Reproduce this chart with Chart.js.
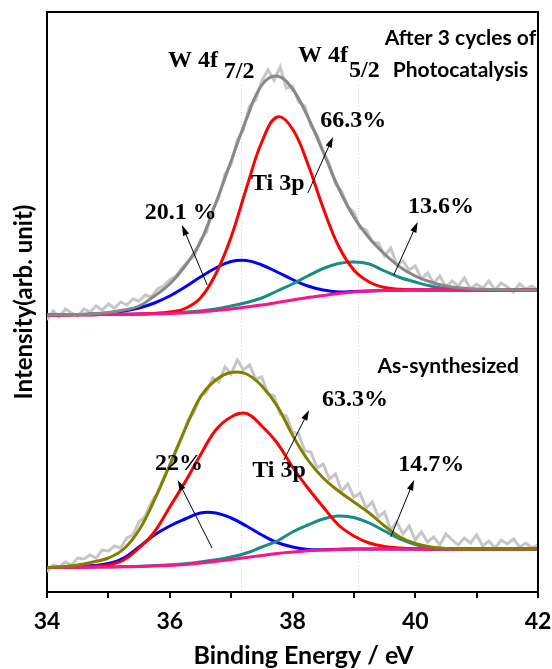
<!DOCTYPE html>
<html>
<head>
<meta charset="utf-8">
<script src="https://cdn.jsdelivr.net/npm/chart.js@4.4.1/dist/chart.umd.min.js"></script>
<style>
    html, body { margin: 0; padding: 0; background: #fff; }
</style>
</head>
<body>
<canvas id="xps-chart" width="552" height="669"></canvas>
<script>
// binding energy grid of the fitted curves (eV)
const energy = [34, 34.25, 34.5, 34.75, 35, 35.25, 35.5, 35.75, 36, 36.25, 36.5, 36.75, 37, 37.25, 37.5, 37.75,
    38, 38.25, 38.5, 38.75, 39, 39.25, 39.5, 39.75, 40, 40.25, 40.5, 40.75, 41, 41.25, 41.5, 41.75, 42];

// after 3 cycles of photocatalysis (upper spectrum, offset)
const top_envelope = [277, 277.3, 277.6, 278.3, 279.5, 282, 286, 296, 308, 326, 350, 389, 431, 473, 507, 516,
    503, 475, 440, 404, 375, 354, 338, 325, 316, 310, 306, 304, 303, 302.5, 302.3, 302, 302];
const top_ti3p = [277, 277.1, 277.2, 277.3, 277.5, 277.7, 278, 278.5, 280, 283.5, 294, 318, 355, 404, 450, 475,
    463, 428, 384, 346, 322, 310, 304.5, 302.8, 302.2, 302, 302, 302, 302, 302, 302, 302, 302];
const top_w72 = [277, 277.2, 277.5, 278, 279, 281, 284, 289, 296, 305, 315, 324, 330.5, 331.5, 327, 320,
    312.5, 306, 302, 300, 300.5, 301, 301.5, 301.8, 302, 302, 302, 302, 302, 302, 302, 302, 302];
const top_w52 = [277, 277.1, 277.2, 277.3, 277.5, 277.7, 278, 278.5, 279, 280, 281, 283, 286, 289.5, 294, 301,
    308, 316, 323.5, 328.5, 330, 328, 321, 314.5, 310, 306, 303.5, 302.5, 302, 302, 302, 302, 302];
const top_background = [277, 277.1, 277.2, 277.3, 277.5, 277.7, 278, 278.2, 278.5, 279.2, 280, 281.5, 283, 285, 287, 289.5,
    292, 294.5, 296.5, 298.5, 300, 301, 301.5, 301.8, 302, 302, 302, 302, 302, 302, 302, 302, 302];

// as-synthesized (lower spectrum)
const bot_envelope = [24.5, 25.2, 27, 30, 34, 43, 62, 92, 127, 163, 195, 212, 219.5, 218, 206, 186,
    157, 132, 114, 101, 90, 79, 66, 55, 48.5, 45, 43.5, 43.1, 43, 43, 43, 43, 43];
const bot_ti3p = [24.5, 24.6, 25, 25.8, 27, 32, 44, 60, 85, 110, 137, 162, 175, 178.5, 166, 149,
    125, 104, 85, 67, 56, 49, 45.5, 44, 43.2, 43, 43, 43, 43, 43, 43, 43, 43];
const bot_w72 = [24.5, 24.8, 25.5, 26.5, 28.5, 34, 45, 57, 66, 73, 79, 79, 74, 66, 57, 49.5,
    45, 42.5, 42.2, 42.7, 43, 43, 43, 43, 43, 43, 43, 43, 43, 43, 43, 43, 43];
const bot_w52 = [24.5, 24.6, 24.7, 24.9, 25.1, 25.4, 25.8, 26.4, 27.2, 28.3, 30, 32.2, 35, 39, 45, 51,
    60, 67, 73, 76, 74.5, 69, 61, 53, 47.5, 44.5, 43.5, 43, 43, 43, 43, 43, 43];
const bot_background = [24.5, 24.6, 24.7, 24.8, 25, 25.2, 25.5, 26, 26.5, 27.5, 29, 30.7, 32.5, 34.5, 36.5, 38.5,
    40, 41.3, 42, 42.6, 43, 43, 43, 43, 43, 43, 43, 43, 43, 43, 43, 43, 43];

// measured spectra
const raw_energy = [34.0, 34.1, 34.2, 34.3, 34.4, 34.5, 34.6, 34.7, 34.8, 34.9, 35.0, 35.1, 35.2, 35.3, 35.4, 35.5,
    35.6, 35.7, 35.8, 35.9, 36.0, 36.1, 36.2, 36.3, 36.4, 36.5, 36.6, 36.7, 36.8, 36.9, 37.0, 37.1, 37.2, 37.3,
    37.4, 37.5, 37.6, 37.7, 37.8, 37.9, 38.0, 38.1, 38.2, 38.3, 38.4, 38.5, 38.6, 38.7, 38.8, 38.9, 39.0, 39.1,
    39.2, 39.3, 39.4, 39.5, 39.6, 39.7, 39.8, 39.9, 40.0, 40.1, 40.2, 40.3, 40.4, 40.5, 40.6, 40.7, 40.8, 40.9,
    41.0, 41.1, 41.2, 41.3, 41.4, 41.5, 41.6, 41.7, 41.8, 41.9, 42.0];
const raw_top = [272, 281, 275, 283, 279, 276, 283, 280, 286, 282, 288, 284, 290, 287, 293, 291,
    297, 295, 303, 306, 312, 316, 324, 331, 336, 352, 360, 383, 394, 418, 428, 452, 462, 486,
    492, 511, 522, 512, 525, 504, 506, 490, 486, 466, 457, 441, 428, 408, 401, 385, 380, 364,
    362, 350, 349, 336, 344, 327, 331, 322, 326, 313, 319, 309, 316, 305, 311, 306, 314, 303,
    308, 304, 311, 302, 309, 305, 300, 308, 303, 306, 302];
const raw_bot = [20, 27, 25, 30, 27, 34, 33, 37, 34, 42, 41, 46, 44, 54, 57, 70,
    76, 90, 99, 114, 126, 140, 154, 172, 180, 196, 200, 214, 210, 225, 218, 232, 222, 227,
    213, 215, 198, 196, 178, 176, 160, 158, 141, 140, 124, 128, 113, 118, 101, 108, 95, 99,
    84, 90, 75, 80, 62, 70, 58, 66, 52, 60, 50, 55, 47, 58, 52, 47, 54, 49,
    57, 46, 51, 44, 52, 48, 53, 45, 49, 44, 47];

// labels, placed in data units (eV, intensity)
const labels_serif = [
    { text: "W 4f", x: 35.97, y: 531, align: "left" },
    { text: "7/2", x: 36.88, y: 520, align: "left" },
    { text: "W 4f", x: 38.09, y: 536, align: "left" },
    { text: "5/2", x: 38.92, y: 521, align: "left" },
    { text: "66.3%", x: 38.99, y: 471, align: "center" },
    { text: "Ti 3p", x: 37.76, y: 408, align: "center" },
    { text: "20.1 %", x: 36.18, y: 379, align: "center" },
    { text: "13.6%", x: 40.42, y: 385, align: "center" },
    { text: "63.3%", x: 39.02, y: 192, align: "center" },
    { text: "Ti 3p", x: 37.78, y: 121, align: "center" },
    { text: "22%", x: 36.15, y: 128, align: "center" },
    { text: "14.7%", x: 40.26, y: 127, align: "center" }
];
const labels_sans = [
    { text: "After 3 cycles of", x: 41.97, y: 554, align: "right" },
    { text: "Photocatalysis", x: 41.84, y: 522, align: "right" },
    { text: "As-synthesized", x: 41.69, y: 226, align: "right" }
];
const arrows = [
    { from: [36.61, 307], to: [36.20, 367] },
    { from: [38.25, 399], to: [38.66, 455] },
    { from: [39.65, 317], to: [40.04, 370] },
    { from: [36.69, 44], to: [36.13, 112] },
    { from: [37.86, 132], to: [38.27, 182] },
    { from: [39.60, 55], to: [39.98, 112] }
];
const guide_lines = [37.16, 39.07];
const x_title = { text: "Binding Energy / eV", x: 38.18 };

function points(xs, ys) {
    return xs.map((x, i) => ({ x: x, y: ys[i] }));
}

function fit_line(ys, color) {
    return {
        data: points(energy, ys),
        borderColor: color,
        borderWidth: 3,
        pointRadius: 0,
        tension: 0.4,
        fill: false
    };
}

function raw_line(ys) {
    return {
        data: points(raw_energy, ys),
        borderColor: "#c6c6c6",
        borderWidth: 3,
        pointRadius: 0,
        tension: 0,
        fill: false
    };
}

const decorations = {
    id: "decorations",
    beforeDatasetsDraw(chart) {
        const { ctx, scales: { x, y } } = chart;
        ctx.save();
        ctx.strokeStyle = "#d4d4d4";
        ctx.lineWidth = 1;
        ctx.setLineDash([1, 2]);
        guide_lines.forEach(e => {
            const px = Math.round(x.getPixelForValue(e)) + 0.5;
            ctx.beginPath();
            ctx.moveTo(px, y.getPixelForValue(507));
            ctx.lineTo(px, y.bottom);
            ctx.stroke();
        });
        ctx.restore();
    },
    afterDatasetsDraw(chart) {
        const { ctx, chartArea, scales: { x, y } } = chart;
        ctx.save();

        ctx.strokeStyle = "#000";
        ctx.lineWidth = 2;
        ctx.beginPath();
        ctx.moveTo(chartArea.left, chartArea.top);
        ctx.lineTo(chartArea.right, chartArea.top);
        ctx.lineTo(chartArea.right, chartArea.bottom);
        ctx.stroke();

        ctx.fillStyle = "#000";
        ctx.textBaseline = "middle";
        ctx.font = "bold 24px 'Liberation Serif'";
        labels_serif.forEach(l => {
            ctx.textAlign = l.align;
            ctx.fillText(l.text, x.getPixelForValue(l.x), y.getPixelForValue(l.y));
        });
        ctx.font = "bold 21px Lato";
        labels_sans.forEach(l => {
            ctx.textAlign = l.align;
            ctx.fillText(l.text, x.getPixelForValue(l.x), y.getPixelForValue(l.y));
        });

        ctx.font = "bold 25px Lato";
        ctx.textAlign = "center";
        ctx.fillText(x_title.text, x.getPixelForValue(x_title.x), 656);

        ctx.lineWidth = 1;
        arrows.forEach(a => {
            const x0 = x.getPixelForValue(a.from[0]);
            const y0 = y.getPixelForValue(a.from[1]);
            const x1 = x.getPixelForValue(a.to[0]);
            const y1 = y.getPixelForValue(a.to[1]);
            const ang = Math.atan2(y1 - y0, x1 - x0);
            const len = 11;
            ctx.beginPath();
            ctx.moveTo(x0, y0);
            ctx.lineTo(x1 - Math.cos(ang) * len * 0.8, y1 - Math.sin(ang) * len * 0.8);
            ctx.stroke();
            ctx.beginPath();
            ctx.moveTo(x1, y1);
            ctx.lineTo(x1 - len * Math.cos(ang - 0.3), y1 - len * Math.sin(ang - 0.3));
            ctx.lineTo(x1 - len * Math.cos(ang + 0.3), y1 - len * Math.sin(ang + 0.3));
            ctx.closePath();
            ctx.fill();
        });
        ctx.restore();
    }
};

const ctx = document.getElementById("xps-chart");

new Chart(ctx, {
    type: "line",
    data: {
        datasets: [
            fit_line(top_envelope, "#888888"),
            fit_line(bot_envelope, "#808000"),
            fit_line(top_background, "#ff1488"),
            fit_line(bot_background, "#ff1488"),
            fit_line(top_ti3p, "#ff0000"),
            fit_line(bot_ti3p, "#ff0000"),
            fit_line(top_w52, "#178c88"),
            fit_line(bot_w52, "#178c88"),
            fit_line(top_w72, "#0000ff"),
            fit_line(bot_w72, "#0000ff"),
            raw_line(raw_top),
            raw_line(raw_bot)
        ]
    },
    options: {
        responsive: false,
        devicePixelRatio: 1,
        animation: false,
        layout: {
            padding: { top: 12, right: 14, left: 0, bottom: 0 }
        },
        plugins: {
            legend: { display: false },
            tooltip: { enabled: false }
        },
        scales: {
            x: {
                type: "linear",
                min: 34,
                max: 42,
                afterFit: scale => {
                    scale.height = 77;
                    scale.paddingLeft = 0;
                    scale.paddingRight = 0;
                },
                ticks: {
                    stepSize: 1,
                    color: "#000",
                    padding: 10,
                    maxRotation: 0,
                    font: { family: "Lato", size: 23, weight: "bold" },
                    callback: value => (value % 2 === 0 ? value : "")
                },
                grid: {
                    drawOnChartArea: false,
                    drawTicks: true,
                    tickLength: 6,
                    color: "#000",
                    lineWidth: 2
                },
                border: { display: true, color: "#000", width: 2 }
            },
            y: {
                min: 0,
                max: 580,
                afterFit: scale => { scale.width = 47; },
                ticks: { display: false },
                grid: { display: false },
                border: { display: true, color: "#000", width: 2 },
                title: {
                    display: true,
                    text: "Intensity(arb. unit)",
                    color: "#000",
                    font: { family: "Lato", size: 24, weight: "bold" },
                    padding: { top: 10, bottom: 0 }
                }
            }
        }
    },
    plugins: [decorations]
});
</script>
</body>
</html>
